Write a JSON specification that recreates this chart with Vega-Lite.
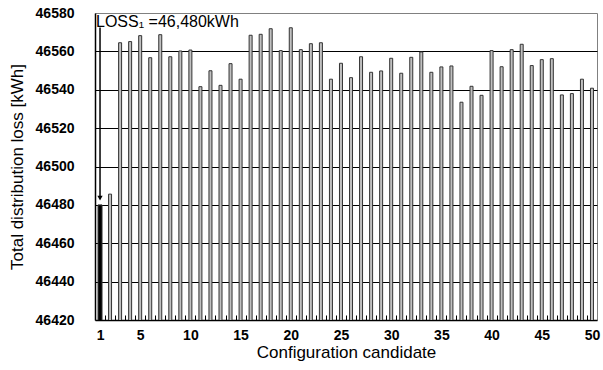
{
  "$schema": "https://vega.github.io/schema/vega-lite/v6.json",
  "autosize": "none",
  "width": 502,
  "height": 307,
  "padding": {"left": 95, "top": 13, "right": 6, "bottom": 50},
  "background": "white",
  "config": {
    "view": {"stroke": "#808080", "strokeWidth": 1},
    "font": "Liberation Sans"
  },
  "datasets": {
    "losses": [
      {"candidate": 1, "loss": 46480},
      {"candidate": 2, "loss": 46485.6},
      {"candidate": 3, "loss": 46564.5},
      {"candidate": 4, "loss": 46565.1},
      {"candidate": 5, "loss": 46568.2},
      {"candidate": 6, "loss": 46556.7},
      {"candidate": 7, "loss": 46568.7},
      {"candidate": 8, "loss": 46557.2},
      {"candidate": 9, "loss": 46560.2},
      {"candidate": 10, "loss": 46560.7},
      {"candidate": 11, "loss": 46541.6},
      {"candidate": 12, "loss": 46549.9},
      {"candidate": 13, "loss": 46542.3},
      {"candidate": 14, "loss": 46553.6},
      {"candidate": 15, "loss": 46545.5},
      {"candidate": 16, "loss": 46568.4},
      {"candidate": 17, "loss": 46568.9},
      {"candidate": 18, "loss": 46571.8},
      {"candidate": 19, "loss": 46560.4},
      {"candidate": 20, "loss": 46572.3},
      {"candidate": 21, "loss": 46560.9},
      {"candidate": 22, "loss": 46564.0},
      {"candidate": 23, "loss": 46564.5},
      {"candidate": 24, "loss": 46545.5},
      {"candidate": 25, "loss": 46553.8},
      {"candidate": 26, "loss": 46546.3},
      {"candidate": 27, "loss": 46557.2},
      {"candidate": 28, "loss": 46549.1},
      {"candidate": 29, "loss": 46549.8},
      {"candidate": 30, "loss": 46556.4},
      {"candidate": 31, "loss": 46548.6},
      {"candidate": 32, "loss": 46556.9},
      {"candidate": 33, "loss": 46559.7},
      {"candidate": 34, "loss": 46549.1},
      {"candidate": 35, "loss": 46551.9},
      {"candidate": 36, "loss": 46552.4},
      {"candidate": 37, "loss": 46533.5},
      {"candidate": 38, "loss": 46541.8},
      {"candidate": 39, "loss": 46537.1},
      {"candidate": 40, "loss": 46560.4},
      {"candidate": 41, "loss": 46552.0},
      {"candidate": 42, "loss": 46560.9},
      {"candidate": 43, "loss": 46563.7},
      {"candidate": 44, "loss": 46552.6},
      {"candidate": 45, "loss": 46555.7},
      {"candidate": 46, "loss": 46556.2},
      {"candidate": 47, "loss": 46537.3},
      {"candidate": 48, "loss": 46538.0},
      {"candidate": 49, "loss": 46545.5},
      {"candidate": 50, "loss": 46540.8}
    ],
    "arrow": [
      {"candidate": 1, "from": 46572.5, "to": 46483.5}
    ]
  },
  "layer": [
    {
      "data": {"name": "losses"},
      "mark": {"type": "bar", "stroke": "#333333", "strokeWidth": 1, "clip": true},
      "encoding": {
        "x": {
          "field": "candidate",
          "type": "quantitative",
          "scale": {"domain": [0.5, 50.5], "nice": false, "zero": false, "padding": 0},
          "axis": {
            "values": [1, 1.5, 2.5, 3.5, 4.5, 5, 5.5, 6.5, 7.5, 8.5, 9.5, 10, 10.5, 11.5, 12.5, 13.5, 14.5, 15, 15.5, 16.5, 17.5, 18.5, 19.5, 20, 20.5, 21.5, 22.5, 23.5, 24.5, 25, 25.5, 26.5, 27.5, 28.5, 29.5, 30, 30.5, 31.5, 32.5, 33.5, 34.5, 35, 35.5, 36.5, 37.5, 38.5, 39.5, 40, 40.5, 41.5, 42.5, 43.5, 44.5, 45, 45.5, 46.5, 47.5, 48.5, 49.5, 50],
            "tickCount": 200,
            "labelExpr": "datum.value % 1 === 0 ? '' + datum.value : ''",
            "labelOverlap": false,
            "labelBound": false,
            "ticks": true,
            "tickSize": -5,
            "tickColor": {"condition": {"test": "datum.value % 1 === 0", "value": "transparent"}, "value": "black"},
            "tickWidth": 1,
            "grid": false,
            "domainColor": "black",
            "domainWidth": 1.5,
            "labelFont": "Liberation Sans",
            "labelFontWeight": "bold",
            "labelFontSize": 14,
            "labelColor": "black",
            "labelPadding": 13,
            "title": "Configuration candidate",
            "titleFont": "Liberation Sans",
            "titleFontWeight": "normal",
            "titleFontSize": 17,
            "titleColor": "black",
            "titlePadding": 2
          }
        },
        "y": {
          "field": "loss",
          "type": "quantitative",
          "scale": {"domain": [46420, 46580], "nice": false, "zero": false},
          "axis": {
            "values": [46420, 46440, 46460, 46480, 46500, 46520, 46540, 46560, 46580],
            "tickCount": 50,
            "format": "d",
            "labelOverlap": false,
            "labelBound": false,
            "ticks": false,
            "grid": true,
            "gridColor": {"condition": {"test": "datum.value === 46580 || datum.value === 46420", "value": "transparent"}, "value": "black"},
            "gridWidth": 1,
            "domainColor": "black",
            "domainWidth": 1.5,
            "labelFont": "Liberation Sans",
            "labelFontWeight": "bold",
            "labelFontSize": 14,
            "labelColor": "black",
            "labelPadding": 21,
            "title": "Total distribution loss [kWh]",
            "titleFont": "Liberation Sans",
            "titleFontWeight": "normal",
            "titleFontSize": 17,
            "titleColor": "black",
            "titlePadding": 9
          }
        },
        "fill": {
          "condition": {"test": "datum.candidate === 1", "value": "black"},
          "value": "#c0c0c0"
        },
        "size": {
          "condition": {"test": "datum.candidate === 1", "value": 4},
          "value": 3
        }
      }
    },
    {
      "data": {"name": "arrow"},
      "mark": {"type": "rule", "color": "black", "strokeWidth": 1.5},
      "encoding": {
        "x": {"field": "candidate", "type": "quantitative", "scale": {"domain": [0.5, 50.5], "nice": false, "zero": false, "padding": 0}},
        "y": {"field": "from", "type": "quantitative", "scale": {"domain": [46420, 46580], "nice": false, "zero": false}},
        "y2": {"field": "to"}
      }
    },
    {
      "data": {"name": "arrow"},
      "mark": {"type": "point", "shape": "triangle-down", "filled": true, "color": "black", "size": 28, "opacity": 1},
      "encoding": {
        "x": {"field": "candidate", "type": "quantitative", "scale": {"domain": [0.5, 50.5], "nice": false, "zero": false, "padding": 0}},
        "y": {"field": "to", "type": "quantitative", "scale": {"domain": [46420, 46580], "nice": false, "zero": false}}
      }
    },
    {
      "data": {"values": [{"label": "LOSS₁ =46,480kWh"}]},
      "mark": {"type": "text", "align": "left", "baseline": "top", "dx": -4, "dy": 1, "fontSize": 16, "font": "Liberation Sans", "color": "black"},
      "encoding": {
        "x": {"datum": 1, "type": "quantitative", "scale": {"domain": [0.5, 50.5], "nice": false, "zero": false, "padding": 0}},
        "y": {"datum": 46580, "type": "quantitative", "scale": {"domain": [46420, 46580], "nice": false, "zero": false}},
        "text": {"field": "label"}
      }
    }
  ]
}
